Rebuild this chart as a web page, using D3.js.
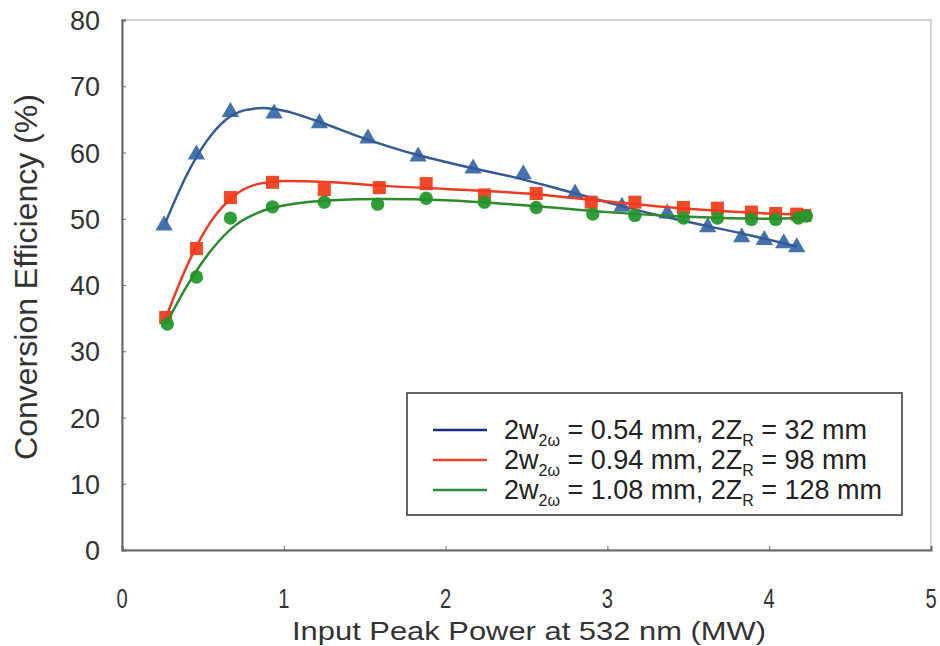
<!DOCTYPE html>
<html>
<head>
<meta charset="utf-8">
<script src="https://cdn.jsdelivr.net/npm/d3@7"></script>
<style>
  body { margin: 0; background: #fff; }
  text { font-family: "Liberation Sans", Arial, Helvetica, sans-serif; }
</style>
</head>
<body>
<svg id="chart" width="940" height="646"></svg>
<script>

// measured points (x = input peak power in MW, y = efficiency in %)
var blueX = [0.26, 0.46, 0.67, 0.94, 1.22, 1.52, 1.83, 2.17, 2.48, 2.80, 3.09, 3.37, 3.62, 3.83, 3.97, 4.09, 4.17]
var blueY = [49.0, 59.7, 66.1, 65.9, 64.4, 62.1, 59.4, 57.6, 56.7, 53.8, 51.8, 50.8, 48.7, 47.2, 46.8, 46.3, 45.7]

var redX = [0.27, 0.46, 0.67, 0.93, 1.25, 1.59, 1.88, 2.24, 2.56, 2.90, 3.17, 3.47, 3.68, 3.89, 4.04, 4.17, 4.22]
var redY = [35.1, 45.5, 53.2, 55.5, 54.4, 54.7, 55.3, 53.6, 53.8, 52.5, 52.5, 51.7, 51.6, 51.0, 50.8, 50.7, 50.5]

var greenX = [0.28, 0.46, 0.67, 0.93, 1.25, 1.58, 1.88, 2.24, 2.56, 2.91, 3.17, 3.47, 3.68, 3.89, 4.04, 4.18, 4.23]
var greenY = [34.1, 41.2, 50.1, 51.8, 52.5, 52.2, 53.1, 52.5, 51.7, 50.7, 50.5, 50.1, 50.1, 49.9, 49.9, 50.1, 50.4]

// fitted curves
var blueFitX = [0.27, 0.40, 0.52, 0.64, 0.76, 0.87, 1.00, 1.20, 1.50, 1.80, 2.10, 2.40, 2.70, 3.00, 3.30, 3.60, 3.90, 4.17]
var blueFitY = [49.5, 56.6, 61.6, 64.9, 66.4, 66.7, 66.3, 64.8, 62.1, 59.8, 58.0, 56.4, 54.5, 52.5, 50.6, 49.0, 47.4, 45.8]

var redFitX = [0.27, 0.40, 0.55, 0.70, 0.85, 1.00, 1.30, 1.60, 2.00, 2.50, 3.00, 3.50, 4.00, 4.22]
var redFitY = [35.0, 42.8, 49.6, 53.6, 55.3, 55.7, 55.5, 55.0, 54.5, 53.8, 52.6, 51.5, 50.8, 50.6]

var greenFitX = [0.27, 0.40, 0.55, 0.70, 0.85, 1.00, 1.30, 1.60, 2.00, 2.50, 3.00, 3.50, 4.00, 4.23]
var greenFitY = [34.0, 39.8, 45.2, 49.0, 51.0, 52.0, 52.8, 53.0, 52.8, 52.0, 51.0, 50.3, 50.0, 50.2]

// tick labels
var xTicks = [0, 1, 2, 3, 4, 5]
var yTicks = [0, 10, 20, 30, 40, 50, 60, 70, 80]

// legend labels: [base, subscript, middle, subscript, tail]
var legendKeys = [
  ["2w", "2\u03c9", " = 0.54 mm, 2Z", "R", " = 32 mm"],
  ["2w", "2\u03c9", " = 0.94 mm, 2Z", "R", " = 98 mm"],
  ["2w", "2\u03c9", " = 1.08 mm, 2Z", "R", " = 128 mm"]
]

var SVG = d3.select("#chart")

// plot area edges (window.top is reserved, so own names)
var pLeft = 122, pRight = 931, pTop = 20, pBottom = 550

var x = d3.scaleLinear().domain([0, 5]).range([pLeft, pRight])
var y = d3.scaleLinear().domain([0, 80]).range([pBottom, pTop])

// frame (thin on top and right)
SVG.append("rect")
  .attr("x", pLeft).attr("y", pTop)
  .attr("width", pRight - pLeft).attr("height", pBottom - pTop)
  .style("fill", "none")
  .style("stroke", "#a8a8a8")
  .style("stroke-width", 1)

// y axis, ticks pointing inward
var yAxis = SVG.append("g")
  .attr("transform", "translate(" + pLeft + ",0)")
  .call(d3.axisRight(y).tickValues(yTicks).tickSize(4).tickFormat(""))
yAxis.select(".domain").style("stroke", "#666").style("stroke-width", 2)
yAxis.selectAll(".tick line").style("stroke", "#666")

// x axis, ticks pointing inward
var xAxis = SVG.append("g")
  .attr("transform", "translate(0," + pBottom + ")")
  .call(d3.axisTop(x).tickValues(xTicks).tickSize(4).tickFormat(""))
xAxis.select(".domain").style("stroke", "#666").style("stroke-width", 2)
xAxis.selectAll(".tick line").style("stroke", "#666")

// tick labels
SVG.selectAll("ylabels")
  .data(yTicks)
  .enter()
  .append("text")
    .attr("x", 100)
    .attr("y", function(d){ return y(d) + 10 })
    .attr("text-anchor", "end")
    .style("font-size", "27px")
    .style("fill", "#333")
    .text(function(d){ return d })

SVG.selectAll("xlabels")
  .data(xTicks)
  .enter()
  .append("text")
    .attr("transform", function(d){ return "translate(" + x(d) + ",608) scale(0.72,1)" })
    .attr("text-anchor", "middle")
    .style("font-size", "28px")
    .style("fill", "#333")
    .text(function(d){ return d })

// axis titles
SVG.append("text")
  .attr("x", 292).attr("y", 640)
  .attr("textLength", 474)
  .attr("lengthAdjust", "spacingAndGlyphs")
  .style("font-size", "26px")
  .style("fill", "#333")
  .text("Input Peak Power at 532 nm (MW)")

SVG.append("text")
  .attr("transform", "translate(37,277) rotate(-90)")
  .attr("text-anchor", "middle")
  .style("font-size", "32px")
  .style("fill", "#333")
  .text("Conversion Efficiency (%)")

// series
var series = [
  { px: blueX, py: blueY, fx: blueFitX, fy: blueFitY, line: "#345a96", mark: "#3c6aa8", shape: d3.symbolTriangle, size: 130 },
  { px: redX, py: redY, fx: redFitX, fy: redFitY, line: "#ee3a22", mark: "#f03e1e", shape: d3.symbolSquare, size: 170 },
  { px: greenX, py: greenY, fx: greenFitX, fy: greenFitY, line: "#2d8a2d", mark: "#239a2c", shape: d3.symbolCircle, size: 140 }
]

var line = d3.line()
  .x(function(d){ return x(d[0]) })
  .y(function(d){ return y(d[1]) })
  .curve(d3.curveMonotoneX)

series.forEach(function(s){
  var pts = s.px.map(function(v, i){ return [v, s.py[i]] })
  var fit = s.fx.map(function(v, i){ return [v, s.fy[i]] })

  SVG.selectAll("marks")
    .data(pts)
    .enter()
    .append("path")
      .attr("d", d3.symbol().type(s.shape).size(s.size))
      .attr("transform", function(d){ return "translate(" + x(d[0]) + "," + y(d[1]) + ")" })
      .style("fill", s.mark)
      .style("opacity", 0.95)

  SVG.append("path")
    .datum(fit)
    .attr("d", line)
    .style("fill", "none")
    .style("stroke", s.line)
    .style("stroke-width", 2.5)
})

// legend box
SVG.append("rect")
  .attr("x", 407).attr("y", 393)
  .attr("width", 495).attr("height", 122)
  .style("fill", "#fff")
  .style("stroke", "#333")
  .style("stroke-width", 1.5)

var legendColor = ["#1c2c8c", "#e8452f", "#2e8c3a"]
var size = 30

SVG.selectAll("legendlines")
  .data(legendKeys)
  .enter()
  .append("line")
    .attr("x1", 433).attr("x2", 487)
    .attr("y1", function(d,i){ return 430 + i*size })
    .attr("y2", function(d,i){ return 430 + i*size })
    .style("stroke", function(d,i){ return legendColor[i] })
    .style("stroke-width", 2.5)

var labels = SVG.selectAll("legendlabels")
  .data(legendKeys)
  .enter()
  .append("text")
    .attr("x", 504)
    .attr("y", function(d,i){ return 439 + i*size })
    .style("font-size", "27px")
    .style("fill", "#222")

labels.each(function(d){
  var t = d3.select(this)
  t.append("tspan").text(d[0])
  t.append("tspan").attr("dy", 7).style("font-size", "16px").text(d[1])
  t.append("tspan").attr("dy", -7).text(d[2])
  t.append("tspan").attr("dy", 7).style("font-size", "16px").text(d[3])
  t.append("tspan").attr("dy", -7).text(d[4])
})

</script>
</body>
</html>
